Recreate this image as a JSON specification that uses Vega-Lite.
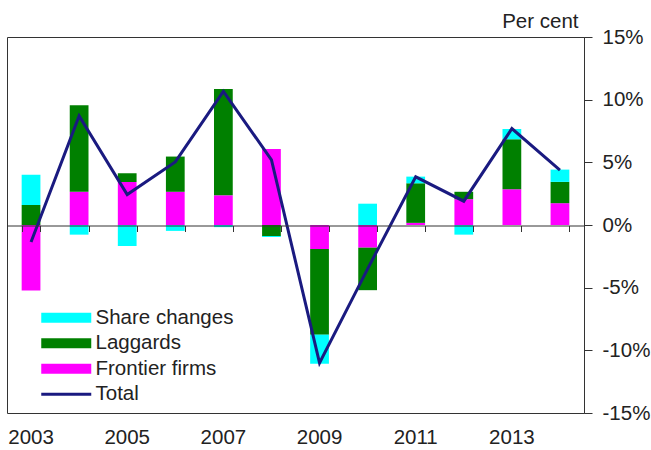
{
  "$schema": "https://vega.github.io/schema/vega-lite/v6.json",
  "width": 577,
  "height": 376,
  "autosize": {"type": "none"},
  "padding": {"left": 7, "top": 37, "right": 67, "bottom": 37},
  "background": "white",
  "config": {
    "font": "Liberation Sans",
    "view": {"stroke": "#333333", "strokeWidth": 1},
    "axis": {"labelColor": "#222222", "titleColor": "#222222", "labelFont": "Liberation Sans", "titleFont": "Liberation Sans"},
    "legend": {"labelFont": "Liberation Sans", "labelColor": "#222222"}
  },
  "datasets": {
    "components": [
      {"year": "2003", "series": "Frontier firms", "value": -5.22},
      {"year": "2003", "series": "Laggards", "value": 1.6},
      {"year": "2003", "series": "Share changes", "value": 2.4},
      {"year": "2004", "series": "Frontier firms", "value": 2.65},
      {"year": "2004", "series": "Laggards", "value": 6.9},
      {"year": "2004", "series": "Share changes", "value": -0.77},
      {"year": "2005", "series": "Frontier firms", "value": 3.44},
      {"year": "2005", "series": "Laggards", "value": 0.69},
      {"year": "2005", "series": "Share changes", "value": -1.68},
      {"year": "2006", "series": "Frontier firms", "value": 2.65},
      {"year": "2006", "series": "Laggards", "value": 2.81},
      {"year": "2006", "series": "Share changes", "value": -0.47},
      {"year": "2007", "series": "Frontier firms", "value": 2.37},
      {"year": "2007", "series": "Laggards", "value": 8.48},
      {"year": "2007", "series": "Share changes", "value": -0.17},
      {"year": "2008", "series": "Frontier firms", "value": 6.07},
      {"year": "2008", "series": "Laggards", "value": -0.88},
      {"year": "2008", "series": "Share changes", "value": -0.08},
      {"year": "2009", "series": "Frontier firms", "value": -1.92},
      {"year": "2009", "series": "Laggards", "value": -6.83},
      {"year": "2009", "series": "Share changes", "value": -2.32},
      {"year": "2010", "series": "Frontier firms", "value": -1.81},
      {"year": "2010", "series": "Laggards", "value": -3.39},
      {"year": "2010", "series": "Share changes", "value": 1.7},
      {"year": "2011", "series": "Frontier firms", "value": 0.17},
      {"year": "2011", "series": "Laggards", "value": 3.16},
      {"year": "2011", "series": "Share changes", "value": 0.53},
      {"year": "2012", "series": "Frontier firms", "value": 2.06},
      {"year": "2012", "series": "Laggards", "value": 0.59},
      {"year": "2012", "series": "Share changes", "value": -0.77},
      {"year": "2013", "series": "Frontier firms", "value": 2.85},
      {"year": "2013", "series": "Laggards", "value": 3.99},
      {"year": "2013", "series": "Share changes", "value": 0.82},
      {"year": "2014", "series": "Frontier firms", "value": 1.74},
      {"year": "2014", "series": "Laggards", "value": 1.7},
      {"year": "2014", "series": "Share changes", "value": 0.98}
    ],
    "totals": [
      {"year": "2003", "total": -1.35},
      {"year": "2004", "total": 8.7},
      {"year": "2005", "total": 2.43},
      {"year": "2006", "total": 5.03},
      {"year": "2007", "total": 10.66},
      {"year": "2008", "total": 5.2},
      {"year": "2009", "total": -11.0},
      {"year": "2010", "total": -3.5},
      {"year": "2011", "total": 3.84},
      {"year": "2012", "total": 1.9},
      {"year": "2013", "total": 7.69},
      {"year": "2014", "total": 4.37}
    ]
  },
  "resolve": {"axis": {"x": "independent"}},
  "layer": [
    {
      "data": {"name": "components"},
      "mark": {"type": "bar", "strokeWidth": 0},
      "encoding": {
        "x": {
          "field": "year", "type": "ordinal",
          "scale": {"paddingInner": 0.61, "paddingOuter": 0.305},
          "axis": {
            "orient": "bottom", "offset": -187.5, "labels": false, "title": null,
            "ticks": true, "tickSize": 6, "tickBand": "extent", "tickColor": "#333333",
            "domain": true, "domainColor": "#333333", "domainWidth": 1, "zindex": 1
          }
        },
        "y": {
          "field": "value", "type": "quantitative", "stack": "zero",
          "scale": {"domain": [-15, 15], "nice": false, "zero": false},
          "axis": {
            "orient": "right", "values": [-15, -10, -5, 0, 5, 10, 15],
            "labelExpr": "datum.value + '%'", "grid": false,
            "tickSize": 8, "tickColor": "#333333", "domainColor": "#333333",
            "labelFontSize": 20.5, "labelPadding": 10, "labelAlign": "left",
            "title": "Per cent", "titleAngle": 0, "titleFontSize": 20.5, "titleFontWeight": "normal",
            "titleAlign": "right", "titleBaseline": "alphabetic", "titleX": -6, "titleY": -10
          }
        },
        "order": {"field": "series", "type": "ordinal", "sort": "ascending"},
        "color": {
          "field": "series", "type": "nominal",
          "scale": {
            "domain": ["Share changes", "Laggards", "Frontier firms", "Total"],
            "range": ["#00FFFF", "#008000", "#FF00FF", "#1A1A80"]
          },
          "legend": {
            "title": null, "orient": "none", "legendX": 49, "legendY": 270.5,
            "padding": 0, "rowPadding": 4.5, "labelFontSize": 20.5, "labelOffset": 19,
            "symbolSize": 2500,
            "encode": {
              "symbols": {
                "update": {
                  "shape": {"signal": "datum.label === 'Total' ? 'M-1,0H1' : 'M-1,-0.2H1V0.2H-1Z'"},
                  "fill": {"signal": "datum.label === 'Total' ? 'transparent' : scale('color', datum.value)"},
                  "stroke": {"signal": "scale('color', datum.value)"},
                  "strokeWidth": {"signal": "datum.label === 'Total' ? 3 : 0"},
                  "opacity": {"value": 1}
                }
              }
            }
          }
        }
      }
    },
    {
      "data": {"name": "totals"},
      "mark": {"type": "line", "strokeWidth": 3},
      "encoding": {
        "x": {
          "field": "year", "type": "ordinal",
          "axis": {
            "orient": "bottom", "values": ["2003", "2005", "2007", "2009", "2011", "2013"],
            "labelAngle": 0, "labelFontSize": 20.5, "labelPadding": 14,
            "ticks": false, "domain": false, "title": null
          }
        },
        "y": {"field": "total", "type": "quantitative"},
        "color": {"datum": "Total"}
      }
    }
  ]
}
